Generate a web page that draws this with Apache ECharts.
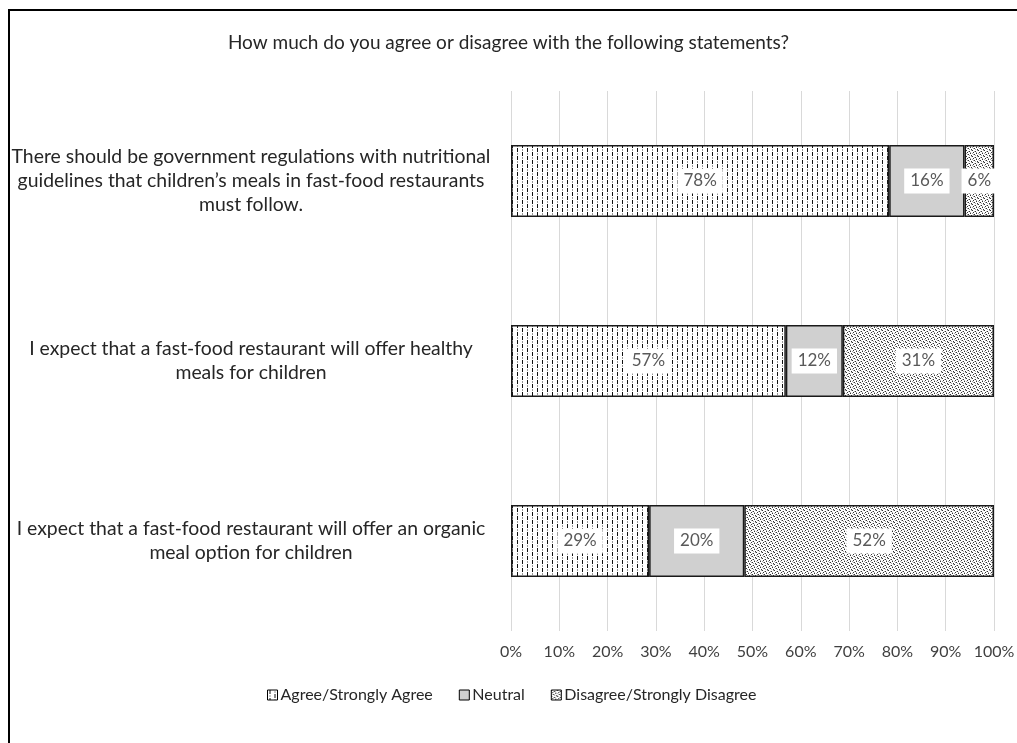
<!DOCTYPE html>
<html>
<head>
<meta charset="utf-8">
<script src="https://cdn.jsdelivr.net/npm/echarts@6/dist/echarts.min.js"></script>
<style>
  html, body { margin: 0; padding: 0; background: #fff; }
  #chart { width: 1017px; height: 743px; }
</style>
</head>
<body>
<div id="chart"></div>
<script>
// Survey statements (pre-wrapped as they appear on the axis)
const categories = [
  'There should be government regulations with nutritional\nguidelines that children\u2019s meals in fast-food restaurants\nmust follow.',
  'I expect that a fast-food restaurant will offer healthy\nmeals for children',
  'I expect that a fast-food restaurant will offer an organic\nmeal option for children'
];
const seriesNames = ['Agree/Strongly Agree', 'Neutral', 'Disagree/Strongly Disagree'];
// Share of respondents, percent
const agree = [78.3, 56.9, 28.6];
const neutral = [15.6, 11.8, 19.7];
const disagree = [6.1, 31.3, 51.7];
const xTicks = [0, 10, 20, 30, 40, 50, 60, 70, 80, 90, 100];

const FONT = 'Lato, "Open Sans", sans-serif';

function makeTile(w, h, draw) {
  const c = document.createElement('canvas');
  c.width = w; c.height = h;
  const g = c.getContext('2d');
  g.fillStyle = '#ffffff';
  g.fillRect(0, 0, w, h);
  draw(g);
  return c;
}

// Dashed vertical hatch
const dashTile = makeTile(10, 8, g => {
  g.fillStyle = '#111111';
  g.fillRect(2, 0, 1, 4);
  g.fillRect(7, 4, 1, 4);
  g.fillStyle = '#9a9a9a';
  g.fillRect(2, 5, 1, 2);
  g.fillRect(7, 1, 1, 2);
});

// Fine speckle
const dotTile = makeTile(6, 6, g => {
  g.fillStyle = '#333333';
  [[0,0],[3,1],[1,2],[4,3],[2,4],[5,5]].forEach(([x, y]) => g.fillRect(x, y, 1, 1));
  g.fillStyle = '#a8a8a8';
  [[5,0],[2,1],[4,2],[1,4],[0,3],[3,5]].forEach(([x, y]) => g.fillRect(x, y, 1, 1));
});

const fills = [
  { image: dashTile, repeat: 'repeat' },
  '#d0d0d0',
  { image: dotTile, repeat: 'repeat' }
];

const labelStyle = {
  show: true,
  position: 'inside',
  formatter: p => Math.round(p.value) + '%',
  backgroundColor: '#ffffff',
  padding: [5, 6, 3, 6],
  color: '#595959',
  fontSize: 17,
  fontFamily: FONT
};

const values = [agree, neutral, disagree];
const series = seriesNames.map((name, i) => ({
  name,
  type: 'bar',
  stack: 'total',
  barWidth: 72,
  data: values[i],
  itemStyle: { color: fills[i], borderColor: '#1a1a1a', borderWidth: 1.5 },
  label: labelStyle,
  emphasis: { disabled: true }
}));

const chart = echarts.init(document.getElementById('chart'), null, { renderer: 'canvas' });
chart.setOption({
  animation: false,
  backgroundColor: '#ffffff',
  title: {
    text: 'How much do you agree or disagree with the following statements?',
    left: 'center',
    top: 28,
    textStyle: { fontSize: 19, fontWeight: 'normal', color: '#262626', fontFamily: FONT }
  },
  legend: {
    data: seriesNames,
    top: 682,
    left: 262,
    itemWidth: 10,
    itemHeight: 10,
    itemGap: 26,
    icon: 'rect',
    textStyle: { fontSize: 16, color: '#262626', fontFamily: FONT, padding: [0, 0, 0, -2] },
    itemStyle: { borderColor: '#000000', borderWidth: 1 }
  },
  grid: { left: 511, right: 23, top: 91, bottom: 112, containLabel: false, outerBoundsMode: 'none' },
  xAxis: {
    type: 'value',
    min: xTicks[0],
    max: xTicks[xTicks.length - 1],
    interval: 10,
    axisLine: { show: false },
    axisTick: { show: false },
    splitLine: { lineStyle: { color: '#d9d9d9', width: 1 } },
    axisLabel: { formatter: '{value}%', fontSize: 16, color: '#404040', fontFamily: FONT, margin: 13 }
  },
  yAxis: {
    type: 'category',
    data: categories,
    inverse: true,
    axisLine: { show: false },
    axisTick: { show: false },
    axisLabel: {
      align: 'center',
      margin: 260,
      fontSize: 19.4,
      lineHeight: 24,
      color: '#262626',
      fontFamily: FONT
    }
  },
  graphic: [
    { type: 'line', silent: true, shape: { x1: 9, y1: 10, x2: 9, y2: 743 }, style: { stroke: '#000', lineWidth: 2 } },
    { type: 'line', silent: true, shape: { x1: 8, y1: 10, x2: 1017, y2: 10 }, style: { stroke: '#000', lineWidth: 2 } }
  ],
  series
});
</script>
</body>
</html>
